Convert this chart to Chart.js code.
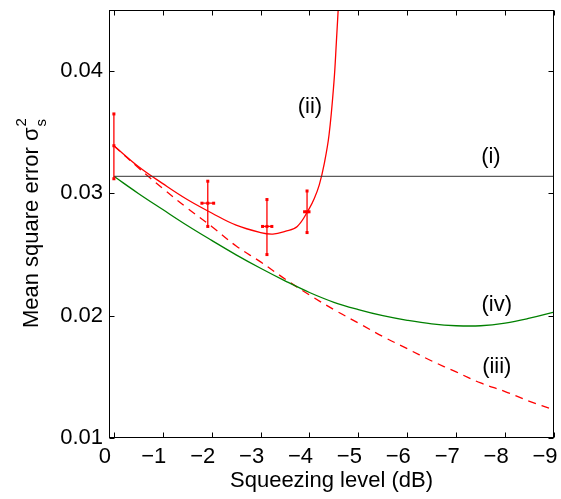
<!DOCTYPE html>
<html>
<head>
<meta charset="utf-8">
<script src="https://cdn.jsdelivr.net/npm/chart.js@4.4.0/dist/chart.umd.min.js"></script>
<style>
  html, body { margin: 0; padding: 0; background: #fff; }
  #wrap { width: 561px; height: 499px; }
</style>
</head>
<body>
<div id="wrap"><canvas id="chart"></canvas></div>
<script>
const FONT = "'Liberation Sans', Arial, Helvetica, sans-serif";

// squeezing levels (dB) for curves (iii) and (iv)
const levels = [0, -0.5, -1, -1.5, -2, -2.5, -3, -3.5, -4, -4.5, -5, -5.5, -6, -6.5, -7, -7.5, -8, -8.5, -9];
const idealMse = [0.0339, 0.0321, 0.0304, 0.0288, 0.0273, 0.0257, 0.0244, 0.0230, 0.0217, 0.0205, 0.0194, 0.0183, 0.0173, 0.0163, 0.0154, 0.0145, 0.0138, 0.0130, 0.0123];
const optimalMse = [0.0314, 0.0300, 0.02868, 0.02738, 0.02616, 0.02498, 0.02388, 0.02285, 0.0219, 0.0211, 0.0205, 0.0200, 0.01962, 0.01933, 0.01918, 0.01918, 0.0194, 0.0198, 0.0203];

// curve (ii)
const fitLevels = [0, -0.5, -1, -1.5, -2, -2.5, -3, -3.25, -3.5, -3.75, -4, -4.1, -4.2, -4.3, -4.4, -4.5, -4.55, -4.6];
const fitMse = [0.0339, 0.0322, 0.0308, 0.0295, 0.0284, 0.0274, 0.0268, 0.02668, 0.0269, 0.0273, 0.0288, 0.0296, 0.0307, 0.0324, 0.0348, 0.0391, 0.0424, 0.0460];

// curve (i), coherent state limit
const coherentLevels = [0, -9];
const coherentMse = [0.0314, 0.0314];

// measured points with error bars
const measLevel = [0, -1.92, -3.13, -3.95];
const measLevelLo = [0, -1.80, -3.04, -3.90];
const measLevelHi = [0, -2.04, -3.23, -3.99];
const measMse = [0.0339, 0.0292, 0.0273, 0.0285];
const measMseLo = [0.0312, 0.0273, 0.0250, 0.0268];
const measMseHi = [0.0365, 0.0310, 0.0295, 0.0302];

const xTicks = [0, -1, -2, -3, -4, -5, -6, -7, -8, -9];
const xTickLabels = ["0", "\u22121", "\u22122", "\u22123", "\u22124", "\u22125", "\u22126", "\u22127", "\u22128", "\u22129"];
const yTicks = [0.01, 0.02, 0.03, 0.04];
const yTickLabels = ["0.01", "0.02", "0.03", "0.04"];

const curveLabels = ["(i)", "(ii)", "(iii)", "(iv)"];
const curveLabelX = [-7.71, -4.01, -7.83, -7.83];
const curveLabelY = [0.0330, 0.0371, 0.0158, 0.0209];

function pts(xs, ys) {
  return xs.map((x, i) => ({ x: x, y: ys[i] }));
}

const errorBars = {
  id: "errorBars",
  afterDatasetsDraw(chart) {
    const ctx = chart.ctx;
    const xs = chart.scales.x, ys = chart.scales.y;
    ctx.save();
    ctx.strokeStyle = "#ff0000";
    ctx.fillStyle = "#ff0000";
    ctx.lineWidth = 1.3;
    const dot = (px, py) => ctx.fillRect(px - 1.5, py - 1.5, 3, 3);
    measLevel.forEach((lv, i) => {
      const px = xs.getPixelForValue(lv);
      const py = ys.getPixelForValue(measMse[i]);
      const top = ys.getPixelForValue(measMseHi[i]);
      const bot = ys.getPixelForValue(measMseLo[i]);
      const l = xs.getPixelForValue(measLevelLo[i]);
      const r = xs.getPixelForValue(measLevelHi[i]);
      ctx.beginPath();
      ctx.moveTo(px, top); ctx.lineTo(px, bot);
      ctx.moveTo(l, py); ctx.lineTo(r, py);
      ctx.stroke();
      dot(px, top); dot(px, bot); dot(px, py);
      if (r - l > 1) { dot(l, py); dot(r, py); }
    });
    // curve labels
    ctx.fillStyle = "#000";
    ctx.font = "22px " + FONT;
    ctx.textAlign = "center";
    ctx.textBaseline = "middle";
    curveLabels.forEach((t, i) => {
      ctx.fillText(t, xs.getPixelForValue(curveLabelX[i]), ys.getPixelForValue(curveLabelY[i]));
    });
    ctx.restore();
  },
  afterDraw(chart) {
    const ctx = chart.ctx;
    const a = chart.chartArea;
    const xs = chart.scales.x, ys = chart.scales.y;
    ctx.save();
    ctx.strokeStyle = "#000";
    ctx.lineWidth = 1;
    const L = Math.round(a.left) + 0.5, R = Math.round(a.right) - 0.5;
    const T = Math.round(a.top) + 0.5, B = Math.round(a.bottom) - 0.5;
    ctx.strokeRect(L, T, R - L, B - T);
    ctx.beginPath();
    xTicks.forEach(v => {
      const p = Math.round(xs.getPixelForValue(v)) + 0.5;
      ctx.moveTo(p, B); ctx.lineTo(p, B - 5);
      ctx.moveTo(p, T); ctx.lineTo(p, T + 5);
    });
    yTicks.forEach(v => {
      const p = Math.round(ys.getPixelForValue(v)) + 0.5;
      ctx.moveTo(L, p); ctx.lineTo(L + 5, p);
      ctx.moveTo(R, p); ctx.lineTo(R - 5, p);
    });
    ctx.stroke();

    // y axis title with sub/superscript
    ctx.translate(38, (a.top + a.bottom) / 2);
    ctx.rotate(-Math.PI / 2);
    ctx.fillStyle = "#000";
    ctx.textBaseline = "alphabetic";
    ctx.textAlign = "left";
    const main = "Mean square error \u03c3";
    ctx.font = "22px " + FONT;
    const wMain = ctx.measureText(main).width;
    ctx.font = "15px " + FONT;
    const wSub = ctx.measureText("s").width;
    const x0 = -(wMain + wSub) / 2;
    ctx.font = "22px " + FONT;
    ctx.fillText(main, x0, 0);
    ctx.font = "15px " + FONT;
    ctx.fillText("2", x0 + wMain + 1, -12);
    ctx.fillText("s", x0 + wMain + 1, 8);
    ctx.restore();
  }
};

const line = document.getElementById("chart").getContext("2d");

let mseChart = new Chart(line, {
  type: "scatter",
  data: {
    datasets: [
      {
        label: "(i)",
        data: pts(coherentLevels, coherentMse),
        showLine: true,
        borderColor: "#333333",
        borderWidth: 1,
        pointRadius: 0,
      },
      {
        label: "(iv)",
        data: pts(levels, optimalMse),
        showLine: true,
        borderColor: "#008000",
        borderWidth: 1.3,
        pointRadius: 0,
        tension: 0.4,
      },
      {
        label: "(iii)",
        data: pts(levels, idealMse),
        showLine: true,
        borderColor: "#ff0000",
        borderWidth: 1.3,
        borderDash: [8, 6],
        pointRadius: 0,
        tension: 0.4,
      },
      {
        label: "(ii)",
        data: pts(fitLevels, fitMse),
        showLine: true,
        borderColor: "#ff0000",
        borderWidth: 1.3,
        pointRadius: 0,
        tension: 0.4,
      },
    ],
  },
  options: {
    responsive: true,
    maintainAspectRatio: false,
    animation: false,
    layout: {
      padding: { top: 10, right: 7, left: 0, bottom: 0 },
    },
    scales: {
      x: {
        type: "linear",
        reverse: true,
        min: -9,
        max: 0.1,
        afterBuildTicks: (scale) => {
          scale.ticks = xTicks.map(v => ({ value: v }));
        },
        afterFit: (scale) => {
          scale.height = 61;
          scale.paddingLeft = 0;
          scale.paddingRight = 0;
        },
        grid: { display: false, drawTicks: false },
        border: { display: false },
        ticks: {
          color: "#000",
          font: { family: FONT, size: 22 },
          padding: 6,
          labelOffset: -9,
          maxRotation: 0,
          callback: (v) => xTickLabels[xTicks.indexOf(v)],
        },
        title: {
          display: true,
          text: "Squeezing level (dB)",
          color: "#000",
          font: { family: FONT, size: 22 },
          padding: { top: 0, bottom: 5 },
        },
      },
      y: {
        type: "linear",
        min: 0.01,
        max: 0.045,
        afterBuildTicks: (scale) => {
          scale.ticks = yTicks.map(v => ({ value: v }));
        },
        afterFit: (scale) => {
          scale.width = 109;
          scale.paddingTop = 0;
          scale.paddingBottom = 0;
        },
        grid: { display: false, drawTicks: false },
        border: { display: false },
        ticks: {
          color: "#000",
          font: { family: FONT, size: 22 },
          padding: 6,
          callback: (v) => yTickLabels[yTicks.indexOf(v)],
        },
      },
    },
    plugins: {
      legend: { display: false },
      tooltip: { enabled: false },
    },
  },
  plugins: [errorBars],
});
</script>
</body>
</html>
